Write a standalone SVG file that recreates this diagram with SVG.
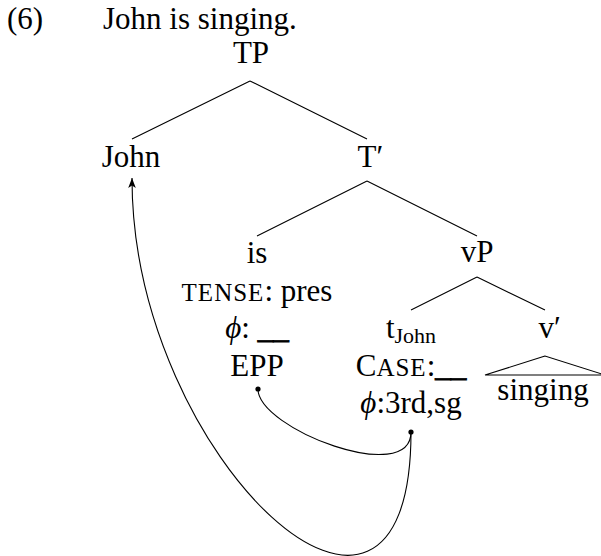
<svg xmlns="http://www.w3.org/2000/svg" width="601" height="556" viewBox="0 0 601 556">
<style>
text { font-family: "Liberation Serif", "DejaVu Serif", serif; font-size: 31px; fill: #000; }
.m { text-anchor: middle; }
.sc { font-size: 25px; letter-spacing: 1px; }
.phi { font-family: "Liberation Serif", "DejaVu Serif", serif; font-style: italic; }
.us { stroke: #000; stroke-width: 0.9; letter-spacing: 0; }
.sub { font-size: 22px; }
.edge { stroke: #000; stroke-width: 1.1; fill: none; }
.link { stroke: #000; stroke-width: 1.1; fill: none; }
.dot { fill: #000; }
</style>
<defs>
<marker id="arr" markerWidth="12" markerHeight="10" refX="10" refY="5" orient="auto" markerUnits="userSpaceOnUse">
<path d="M0,1.2 L10,5 L0,8.8 L2.5,5 Z" fill="#000"/>
</marker>
</defs>
<rect width="601" height="556" fill="#fff"/>
<g id="caption">
<text x="7" y="29">(6)</text>
<text x="103" y="29">John is singing.</text>
</g>
<g id="node-TP"><text class="m" x="251" y="63">TP</text></g>
<g id="node-John"><text class="m" x="131" y="167">John</text></g>
<g id="node-Tbar"><text x="357.5" y="167">T′</text></g>
<g id="node-is">
<text class="m" x="257" y="263">is</text>
<text class="m" x="257" y="300.5"><tspan class="sc">TENSE</tspan>: pres</text>
<text class="m" x="257" y="338"><tspan class="phi">ϕ</tspan>: <tspan class="us">__</tspan></text>
<text class="m" x="257" y="375.5">EPP</text>
</g>
<g id="node-vP"><text class="m" x="477" y="262">vP</text></g>
<g id="node-tJohn">
<text class="m" x="411" y="338">t<tspan class="sub" dy="5">John</tspan></text>
<text class="m" x="411" y="375.5">C<tspan class="sc">ASE</tspan>:<tspan class="us">__</tspan></text>
<text class="m" x="411" y="413"><tspan class="phi">ϕ</tspan>:3rd,sg</text>
</g>
<g id="node-vbar"><text x="538.5" y="338">v′</text></g>
<g id="node-singing"><text class="m" x="543" y="400">singing</text></g>
<g id="connectors">
<path class="edge" d="M250,81 L132,139 M250,81 L367,139"/>
<path class="edge" d="M367,181 L257,236 M367,181 L477,236"/>
<path class="edge" d="M477,277 L411,310 M477,277 L545,310"/>
<path class="edge" d="M545,356 L485,375 L605,375 Z"/>
<path class="link" d="M258,389 C258,429 411,487 411,432"/>
<path class="link" d="M411,432 C411,715 132,460 132,178" marker-end="url(#arr)"/>
<circle class="dot" cx="258" cy="389" r="2.6"/>
<circle class="dot" cx="411" cy="432" r="2.6"/>
</g>
</svg>
